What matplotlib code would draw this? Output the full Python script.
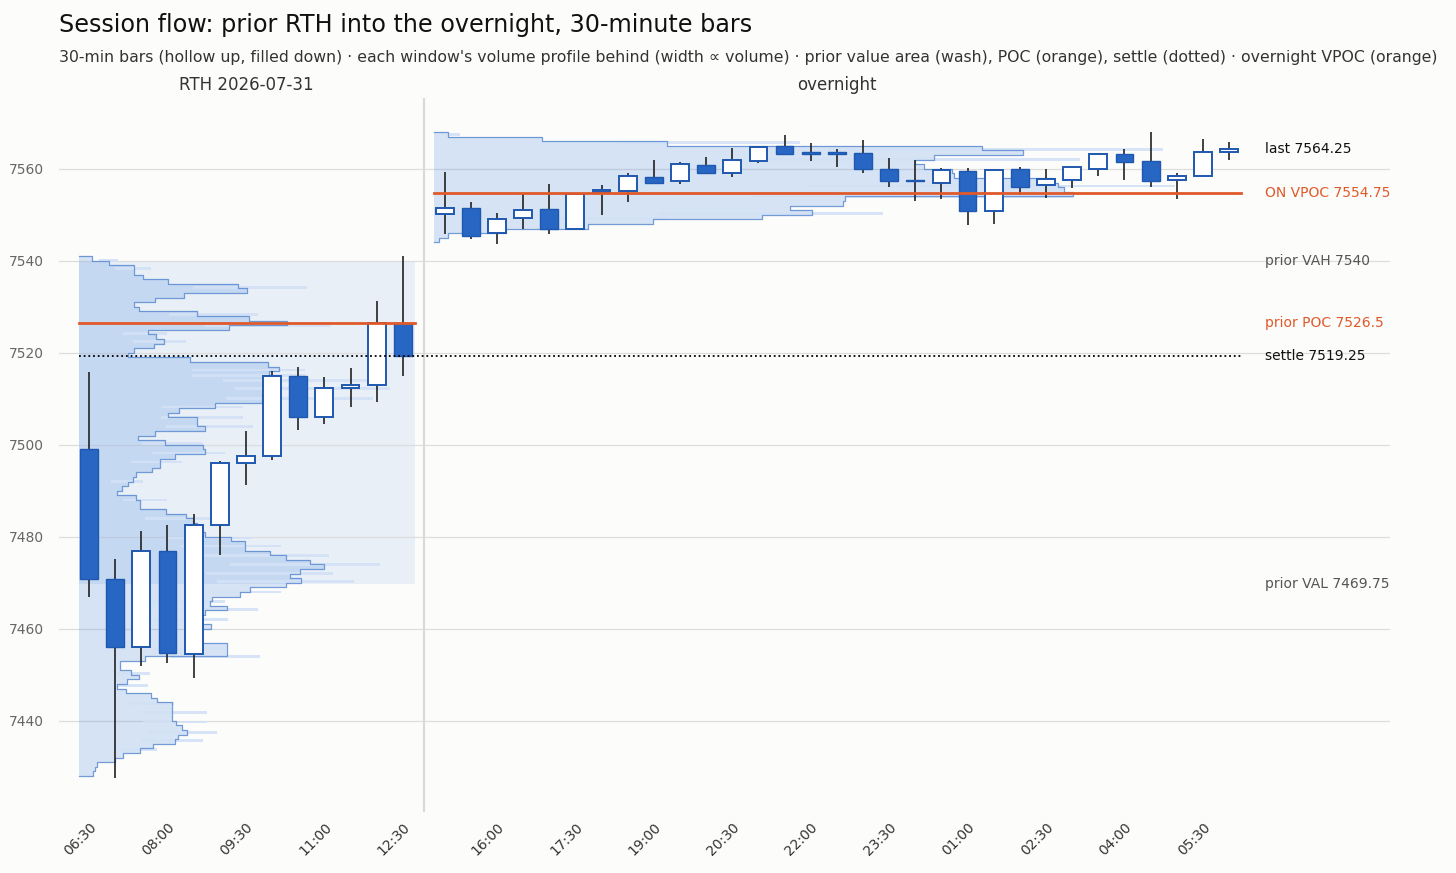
import numpy as np
import matplotlib.pyplot as plt
from matplotlib.transforms import blended_transform_factory

# prior RTH session, 30-min bars
rth_date = '2026-07-31'
rth_times = ['06:30', '07:00', '07:30', '08:00', '08:30', '09:00', '09:30',
             '10:00', '10:30', '11:00', '11:30', '12:00', '12:30']
rth_open = [7499, 7470.75, 7456, 7477, 7454.5, 7482.5, 7496, 7497.5, 7515, 7506, 7512.25, 7513, 7526.5]
rth_high = [7515.75, 7475.25, 7481.25, 7482.5, 7485, 7496.5, 7503, 7516, 7517, 7514.75, 7516.75, 7531.25, 7541]
rth_low = [7467, 7427.5, 7452, 7452.5, 7449.25, 7476, 7491.25, 7496.75, 7503.25, 7504.5, 7508.25, 7509.25, 7515]
rth_close = [7470.75, 7456, 7477, 7454.75, 7482.5, 7496, 7497.5, 7515, 7506, 7512.25, 7513, 7526.5, 7519.25]

# overnight, 30-min bars
on_times = ['15:00', '15:30', '16:00', '16:30', '17:00', '17:30', '18:00', '18:30', '19:00', '19:30',
            '20:00', '20:30', '21:00', '21:30', '22:00', '22:30', '23:00', '23:30', '00:00', '00:30',
            '01:00', '01:30', '02:00', '02:30', '03:00', '03:30', '04:00', '04:30', '05:00', '05:30', '06:00']
on_open = [7550.25, 7551.5, 7546, 7549.25, 7551.25, 7547, 7555, 7555.25, 7558.25, 7557.25,
           7560.75, 7559, 7561.75, 7565, 7563.75, 7563.75, 7563.5, 7560, 7557.5, 7557,
           7559.5, 7550.75, 7560, 7556.5, 7557.5, 7560, 7563.25, 7561.75, 7557.5, 7558.5, 7563.75]
on_high = [7559.25, 7552.75, 7550.5, 7554.5, 7556.75, 7554.5, 7556.5, 7559, 7562, 7561.5,
           7562.5, 7564.5, 7565, 7567.25, 7565.5, 7564.25, 7566.25, 7562.25, 7562, 7560.25,
           7560.25, 7559.75, 7560.5, 7560, 7560.5, 7563.25, 7564.25, 7568, 7559, 7566.5, 7565.75]
on_low = [7545.75, 7544.75, 7543.75, 7547, 7545.75, 7547, 7550, 7552.75, 7556.75, 7556.75,
          7559, 7558.25, 7561.25, 7563.25, 7561.75, 7560.5, 7559, 7556, 7553, 7553.5,
          7547.75, 7548, 7554.25, 7553.75, 7555.75, 7558.5, 7557.5, 7556, 7553.5, 7558.5, 7562]
on_close = [7551.5, 7545.5, 7549, 7551, 7547, 7554.5, 7555.5, 7558.5, 7557, 7561,
            7559, 7562, 7564.75, 7563.25, 7563.25, 7563.25, 7560, 7557.25, 7557.25, 7559.75,
            7550.75, 7559.75, 7556, 7557.75, 7560.5, 7563.25, 7561.5, 7557.25, 7558.5, 7563.75, 7564.25]

# volume profiles, 1-pt bins (lower edge first), volume in arbitrary units
rth_prof_lo = 7428
rth_prof_vol = [14, 16, 18, 36, 44, 61, 74, 96, 99, 108, 103, 97, 93, 93, 93, 93, 78, 72, 47, 38,
                48, 60, 52, 41, 41, 66, 148, 148, 148, 118, 110, 118, 132, 120, 115, 126, 148, 131, 133, 161,
                171, 207, 222, 211, 221, 245, 231, 207, 191, 166, 166, 152, 126, 122, 118, 114, 107, 87, 61, 61,
                57, 38, 43, 49, 54, 57, 73, 81, 81, 96, 126, 124, 86, 59, 76, 126, 118, 118, 89, 100,
                136, 183, 183, 188, 195, 192, 186, 190, 200, 189, 111, 49, 55, 75, 85, 77, 69, 150, 208, 170,
                118, 60, 55, 76, 105, 168, 159, 89, 64, 55, 55, 30, 13]
# single price levels that stick out of the binned profile
rth_tick_px = [7540.0, 7538.25, 7534.25, 7528.25, 7526.0, 7524.25, 7522.5, 7516.25, 7515.0, 7514.0,
               7512.25, 7510.0, 7508.25, 7506.0, 7504.0, 7500.25, 7498.25, 7496.25, 7492.0, 7488.0,
               7484.0, 7479.75, 7478.0, 7476.0, 7474.0, 7472.0, 7470.25, 7468.0, 7466.0, 7464.25,
               7462.0, 7455.75, 7454.0, 7450.25, 7447.75, 7443.75, 7441.75, 7439.75, 7437.5, 7435.75, 7433.75]
rth_tick_vol = [39, 72, 228, 179, 252, 88, 107, 226, 226, 288,
                311, 294, 164, 164, 174, 124, 146, 103, 64, 88,
                131, 173, 202, 250, 301, 254, 275, 202, 146, 179,
                149, 147, 181, 71, 69, 95, 128, 128, 138, 124, 78]

on_prof_lo = 7544
on_prof_vol = [5, 14, 72, 154, 219, 328, 378, 356, 409, 411, 639, 630, 624, 620, 520, 518,
               490, 481, 500, 589, 548, 233, 108, 14]
on_tick_px = [7567.5, 7565.75, 7564.25, 7562.0, 7556.25, 7554.0, 7550.25, 7549.25]
on_tick_vol = [26, 366, 729, 646, 741, 639, 449, 233]

# reference levels
prior_vah = 7540
prior_val = 7469.75
prior_poc = 7526.5
settle = 7519.25
on_vpoc = 7554.75
last = 7564.25

BLUE = '#2766c2'
EDGE = '#1f58b0'
ORANGE = '#e0592a'
WASH = '#3d7fe0'
BG = '#fcfcfa'
VOL_SCALE = 1 / 26.15   # volume units -> bar slots

rth_x = np.arange(len(rth_times))
on_x = np.arange(len(on_times)) + len(rth_times) + 0.6

fig = plt.figure(figsize=(14.56, 8.73), dpi=100, facecolor=BG)
ax = fig.add_axes([0.0405, 0.0699, 0.9141, 0.8179], facecolor=BG)


def draw_profile(x0, lo, vol, tick_px, tick_vol):
    vol = np.array(vol, dtype=float)
    edges = lo + np.arange(len(vol) + 1)
    w = vol * VOL_SCALE
    xs = np.concatenate([[0], np.repeat(w, 2), [0]]) + x0
    ys = np.concatenate([[edges[0]], np.column_stack([edges[:-1], edges[1:]]).ravel(), [edges[-1]]])
    ax.fill(xs, ys, color=WASH, alpha=0.2, linewidth=0, zorder=1.5)
    tw = np.array(tick_vol) * VOL_SCALE
    ax.barh(tick_px, tw * 0.5, height=0.6, left=x0 + tw * 0.5,
            color='#d3e1f6', alpha=0.9, linewidth=0, zorder=1.7)
    ax.plot(xs, ys, color='#5b8bd0', lw=0.9, alpha=0.85, zorder=2)


def draw_candles(xs, o, h, l, c):
    o, h, l, c = map(np.array, (o, h, l, c))
    up = c >= o
    ax.vlines(xs, l, h, color='#222222', lw=1.2, zorder=4)
    body = np.maximum(np.abs(c - o), 0.25)
    ax.bar(xs[up], body[up], bottom=np.minimum(o, c)[up], width=0.68,
           facecolor='white', edgecolor=EDGE, linewidth=1.4, zorder=5)
    ax.bar(xs[~up], body[~up], bottom=np.minimum(o, c)[~up], width=0.68,
           facecolor=BLUE, edgecolor=EDGE, linewidth=1.0, zorder=5)


rth_l, rth_r = rth_x[0] - 0.38, rth_x[-1] + 0.47
on_l, on_r = on_x[0] - 0.4, on_x[-1] + 0.45

# prior value area wash
ax.fill_between([rth_l, rth_r], prior_val, prior_vah, color=WASH, alpha=0.1, linewidth=0, zorder=0.5)
draw_profile(rth_l, rth_prof_lo, rth_prof_vol, rth_tick_px, rth_tick_vol)
draw_profile(on_l, on_prof_lo, on_prof_vol, on_tick_px, on_tick_vol)

draw_candles(rth_x, rth_open, rth_high, rth_low, rth_close)
draw_candles(on_x, on_open, on_high, on_low, on_close)

# levels
ax.plot([rth_l, rth_r], [prior_poc, prior_poc], color=ORANGE, lw=2, zorder=6)
ax.plot([rth_l, on_r], [settle, settle], color='black', lw=1.3, ls=(0, (1, 1.6)), zorder=6)
ax.plot([on_l, on_r], [on_vpoc, on_vpoc], color=ORANGE, lw=2, zorder=6)

sep = (rth_x[-1] + on_x[0]) / 2
ax.axvline(sep, color='#d9d9d9', lw=1.5, zorder=0.8)

lab_x = on_x[-1] + 1.38
labels = [(last, f'last {last}', '#111111'),
          (on_vpoc, f'ON VPOC {on_vpoc}', ORANGE),
          (prior_vah, f'prior VAH {prior_vah}', '#555555'),
          (prior_poc, f'prior POC {prior_poc}', ORANGE),
          (settle, f'settle {settle}', '#111111'),
          (prior_val, f'prior VAL {prior_val}', '#555555')]
for y, txt, col in labels:
    ax.text(lab_x, y, txt, color=col, fontsize=10, ha='left', va='center')

# session headers
trans = blended_transform_factory(ax.transData, ax.transAxes)
ax.text(rth_x.mean(), 1.006, f'RTH {rth_date}', transform=trans, ha='center', va='bottom',
        fontsize=12, color='#333333')
ax.text(on_x.mean(), 1.006, 'overnight', transform=trans, ha='center', va='bottom',
        fontsize=12, color='#333333')

# axes
tick_pos = list(rth_x[::3]) + list(on_x[2::3])
tick_lab = rth_times[::3] + on_times[2::3]
ax.set_xticks(tick_pos)
ax.set_xticklabels(tick_lab, rotation=45, ha='right', rotation_mode='anchor', fontsize=10, color='#333333')
ax.set_yticks(np.arange(7440, 7561, 20))
ax.tick_params(axis='y', labelsize=10, labelcolor='#666666', length=0, pad=11)
ax.tick_params(axis='x', length=0, pad=6)
ax.set_xlim(-1.15, 49.75)
ax.set_ylim(7420.2, 7575.4)
ax.grid(axis='y', color='#dddddd', lw=0.9)
ax.set_axisbelow(True)
for s in ax.spines.values():
    s.set_visible(False)

fig.text(0.0405, 0.971, 'Session flow: prior RTH into the overnight, 30-minute bars',
         fontsize=17.2, va='center', ha='left', color='#111111')
fig.text(0.0405, 0.934,
         "30-min bars (hollow up, filled down) \u00b7 each window's volume profile behind (width \u221d volume) "
         "\u00b7 prior value area (wash), POC (orange), settle (dotted) \u00b7 overnight VPOC (orange)",
         fontsize=11.35, va='center', ha='left', color='#333333')

fig.savefig('out.png', dpi=100, facecolor=BG)
